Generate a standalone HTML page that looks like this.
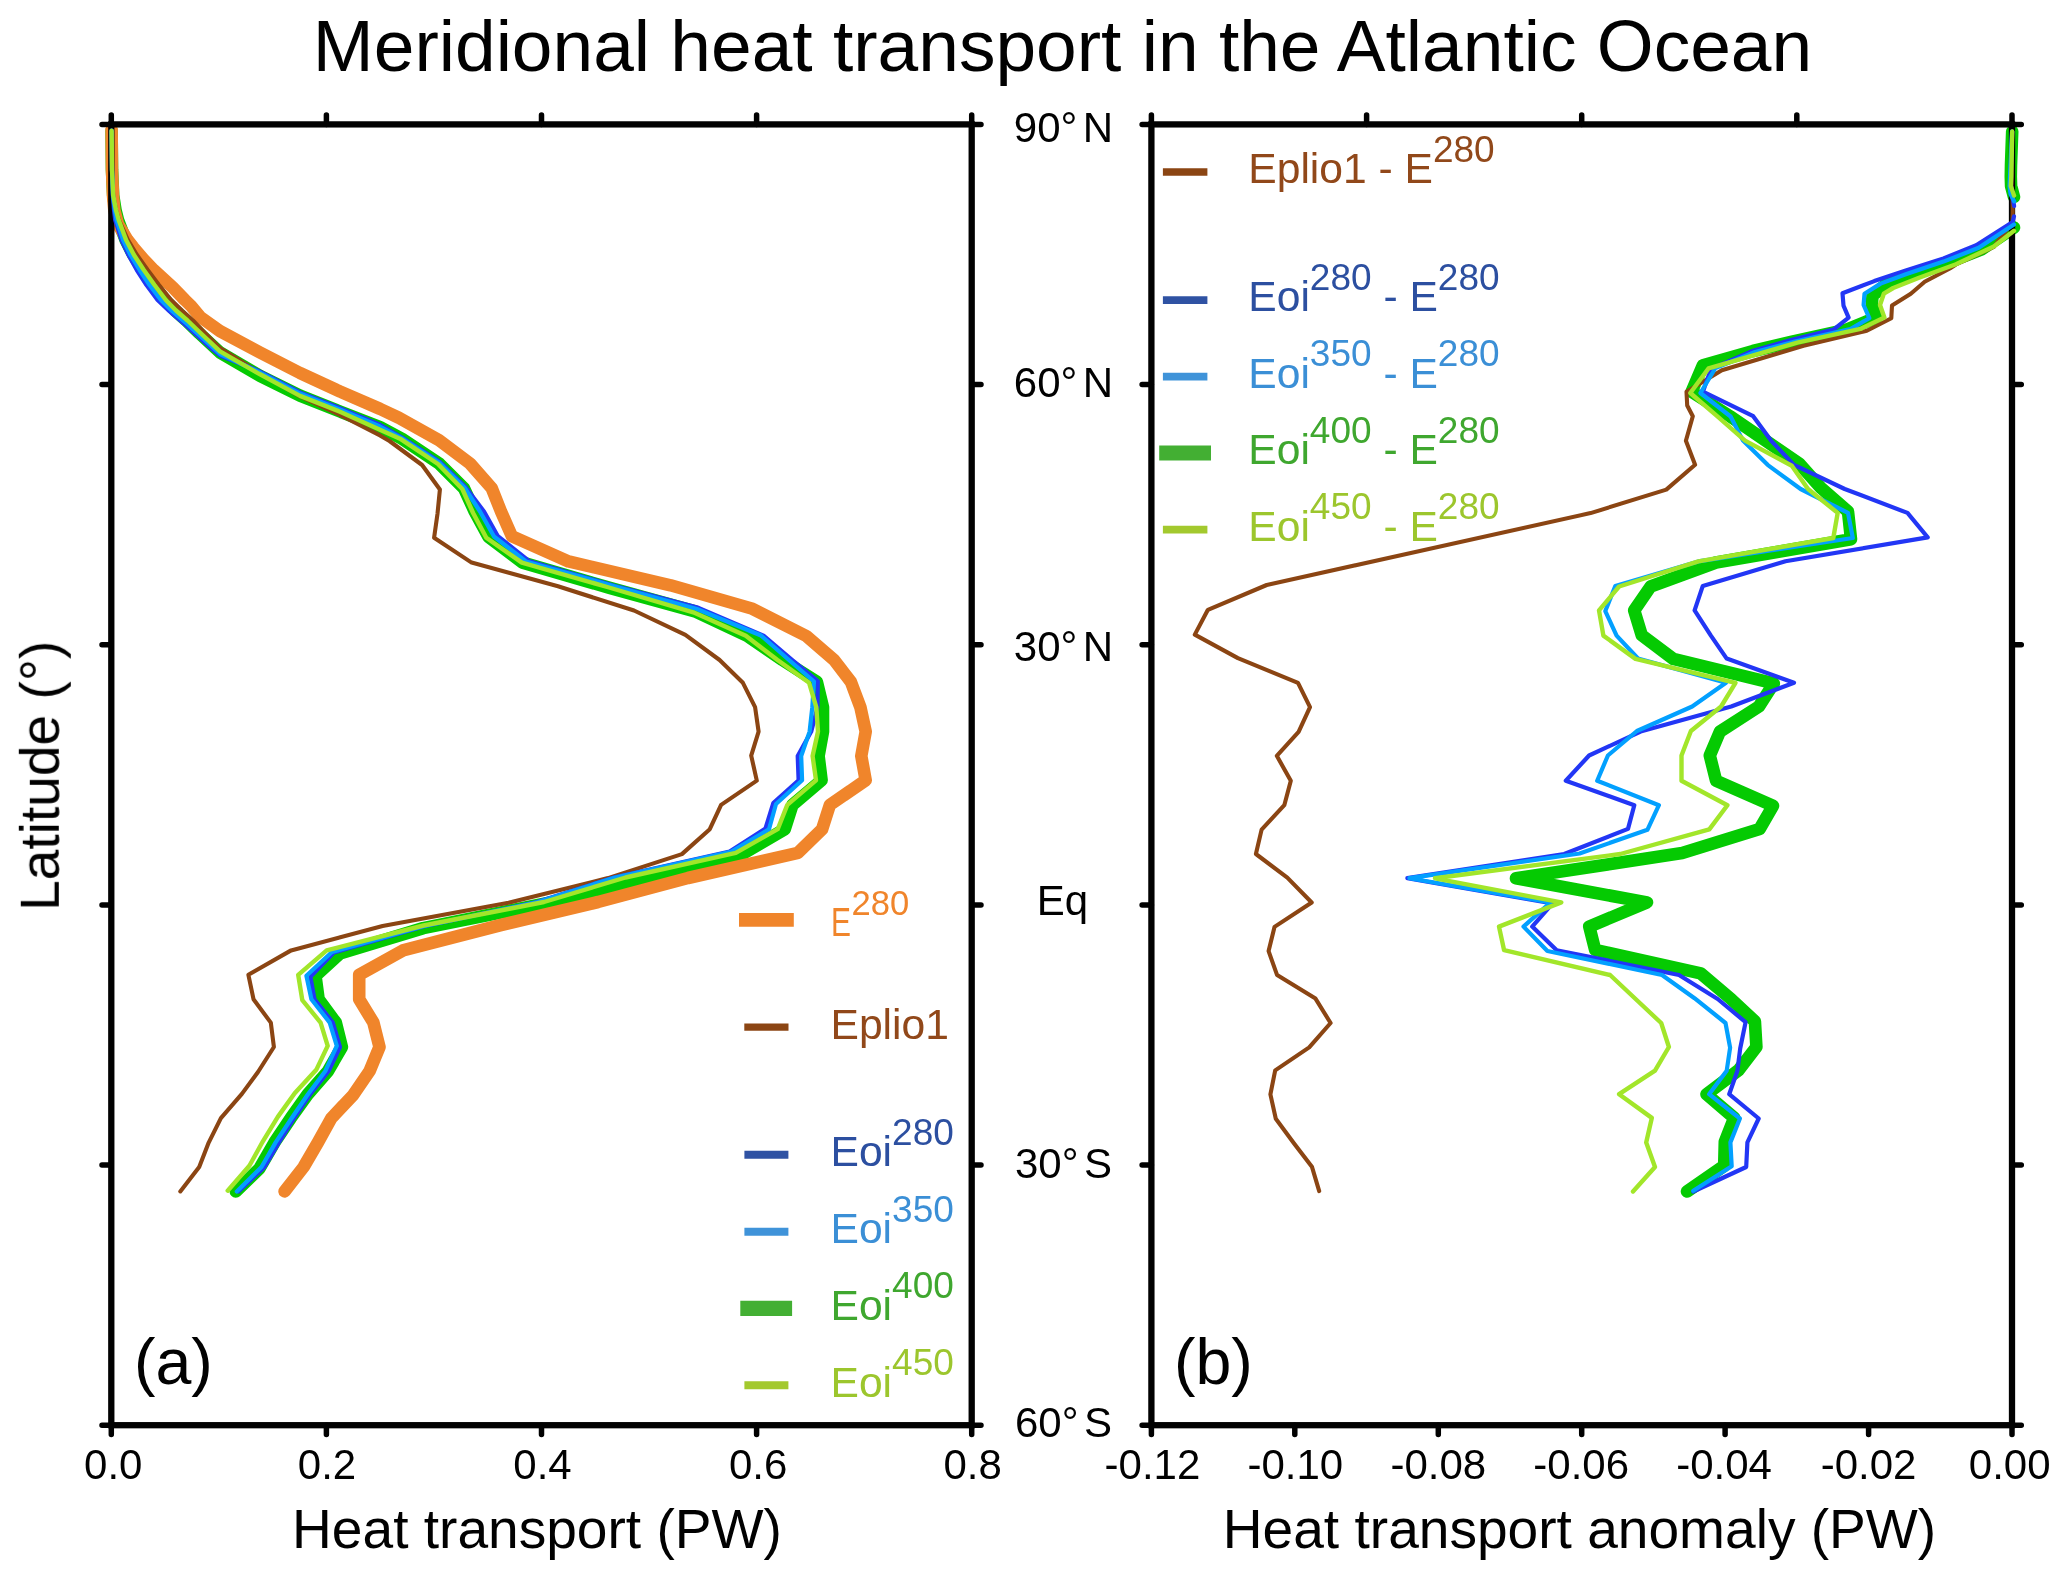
<!DOCTYPE html>
<html lang="en"><head><meta charset="utf-8"><title>Meridional heat transport in the Atlantic Ocean</title>
<style>html,body{margin:0;padding:0;background:#fff;}body{width:2067px;height:1577px;overflow:hidden;}svg{display:block;}text{font-family:"Liberation Sans", Arial, Helvetica, sans-serif;}</style></head><body>
<svg width="2067" height="1577" viewBox="0 0 2067 1577">
<rect width="2067" height="1577" fill="#fff"/>
<g opacity="0.999">
<text x="1062.5" y="70.5" font-size="73.10" text-anchor="middle" fill="#000" id="title">Meridional heat transport in the Atlantic Ocean</text>
<g>
<path d="M111.6 130.7 L112.0 170.0 L113.2 195.5 L115.5 210.0 L118.0 220.0 L125.6 240.0 L133.3 255.0 L142.7 270.0 L153.5 285.0 L164.9 300.0 L175.0 310.5 L186.2 320.5 L199.0 333.0 L220.0 352.5 L260.0 375.9 L300.0 395.7 L340.0 411.5 L380.0 427.1 L401.9 438.7 L439.1 463.5 L463.9 488.2 L474.7 511.5 L488.6 537.0 L522.7 562.6 L609.7 587.9 L695.0 611.4 L747.1 635.8 L782.5 660.0 L816.9 681.9 L823.0 707.2 L823.0 731.6 L818.6 756.0 L821.6 780.2 L792.5 804.9 L784.7 829.2 L743.6 853.2 L646.0 878.0 L553.0 902.0 L423.2 928.1 L339.9 953.5 L315.5 975.8 L318.6 999.2 L335.8 1022.6 L341.9 1047.0 L327.8 1071.4 L307.6 1094.5 L290.7 1118.2 L274.4 1142.6 L259.5 1168.4 L235.8 1191.4" fill="none" stroke="#05CA02" stroke-width="12.60" stroke-linecap="round" stroke-linejoin="round"/>
<path d="M111.6 130.0 L112.0 170.0 L113.0 195.5 L114.3 210.0 L118.0 224.4 L127.5 240.0 L133.0 247.0 L143.5 259.3 L153.7 270.0 L172.5 287.2 L184.9 300.0 L191.1 306.0 L200.3 317.0 L220.0 331.1 L260.0 352.5 L300.0 373.0 L340.0 391.5 L380.0 408.9 L398.8 417.8 L439.1 440.3 L470.0 463.5 L491.7 488.2 L501.0 511.5 L511.9 536.2 L568.5 561.4 L670.6 585.3 L752.5 608.8 L806.3 636.0 L834.1 660.0 L850.9 681.9 L860.4 707.2 L865.7 731.6 L861.3 756.0 L865.7 780.3 L829.9 804.9 L822.1 829.2 L798.0 852.8 L688.0 878.0 L598.0 902.0 L501.0 925.0 L402.9 950.4 L359.2 974.8 L359.2 999.2 L373.4 1022.6 L379.5 1047.0 L369.6 1071.0 L353.0 1095.2 L331.3 1118.2 L317.8 1142.6 L303.6 1167.0 L284.6 1191.4" fill="none" stroke="#F0852B" stroke-width="12.60" stroke-linecap="round" stroke-linejoin="round"/>
<path d="M2012.2 131.5 L2011.0 165.0 L2010.8 176.6 L2011.1 186.1 L2014.0 197.0 M2014.0 227.5 L1981.0 249.7 L1943.5 264.2 L1905.8 276.7 L1887.0 283.6 L1872.5 295.6 L1871.8 305.7 L1876.2 317.6 L1846.7 329.6 L1791.0 342.0 L1753.0 351.0 L1702.9 365.3 L1691.6 391.7 L1730.0 416.2 L1765.8 440.8 L1799.4 463.8 L1820.8 487.7 L1848.0 511.6 L1851.0 539.3 L1716.0 562.5 L1650.6 586.5 L1634.2 610.4 L1641.8 635.3 L1673.2 658.9 L1773.8 683.4 L1758.9 706.5 L1719.9 731.6 L1709.8 755.5 L1716.1 780.7 L1773.0 805.8 L1759.6 829.0 L1682.2 853.1 L1516.0 878.3 L1647.0 902.4 L1589.3 926.6 L1595.1 949.8 L1700.7 973.4 L1731.0 999.0 L1754.9 1021.4 L1756.4 1047.0 L1738.6 1070.1 L1706.5 1094.2 L1734.2 1117.9 L1724.8 1141.8 L1724.2 1165.7 L1687.0 1191.5" fill="none" stroke="#05CA02" stroke-width="12.60" stroke-linecap="round" stroke-linejoin="round"/>
</g>
<rect x="111.3" y="124.4" width="860.4" height="1300.8" fill="none" stroke="#000" stroke-width="6.3"/>
<path d="M111.3 1425.2 v9.3 M326.4 1425.2 v9.3 M541.5 1425.2 v9.3 M756.6 1425.2 v9.3 M971.7 1425.2 v9.3 M111.3 124.4 v-9.3 M326.4 124.4 v-9.3 M541.5 124.4 v-9.3 M756.6 124.4 v-9.3 M971.7 124.4 v-9.3 M111.3 124.4 h-9.3 M971.7 124.4 h9.3 M111.3 384.6 h-9.3 M971.7 384.6 h9.3 M111.3 644.7 h-9.3 M971.7 644.7 h9.3 M111.3 904.9 h-9.3 M971.7 904.9 h9.3 M111.3 1165.0 h-9.3 M971.7 1165.0 h9.3 M111.3 1425.2 h-9.3 M971.7 1425.2 h9.3" fill="none" stroke="#000" stroke-width="5.5" stroke-linecap="round"/>
<rect x="1151.4" y="124.4" width="860.6" height="1300.8" fill="none" stroke="#000" stroke-width="6.3"/>
<path d="M1151.4 1425.2 v9.3 M1294.8 1425.2 v9.3 M1438.3 1425.2 v9.3 M1581.7 1425.2 v9.3 M1725.1 1425.2 v9.3 M1868.6 1425.2 v9.3 M2012.0 1425.2 v9.3 M1151.4 124.4 v-9.3 M1366.6 124.4 v-9.3 M1581.7 124.4 v-9.3 M1796.8 124.4 v-9.3 M2012.0 124.4 v-9.3 M1151.4 124.4 h-9.3 M2012.0 124.4 h9.3 M1151.4 384.6 h-9.3 M2012.0 384.6 h9.3 M1151.4 644.7 h-9.3 M2012.0 644.7 h9.3 M1151.4 904.9 h-9.3 M2012.0 904.9 h9.3 M1151.4 1165.0 h-9.3 M2012.0 1165.0 h9.3 M1151.4 1425.2 h-9.3 M2012.0 1425.2 h9.3" fill="none" stroke="#000" stroke-width="5.5" stroke-linecap="round"/>
<g>
<path d="M111.6 130.7 L112.0 170.0 L113.2 195.5 L116.0 210.0 L119.0 220.0 L128.0 240.0 L137.0 255.0 L147.7 270.0 L159.0 285.0 L171.2 300.0 L182.0 310.5 L193.0 320.5 L205.0 333.0 L220.0 347.9 L260.0 373.0 L300.0 396.5 L340.0 415.0 L380.0 435.4 L389.5 441.0 L422.1 465.0 L439.9 489.5 L437.5 513.8 L434.1 537.8 L471.6 562.6 L558.0 586.3 L634.0 610.5 L685.4 634.9 L719.6 660.0 L742.9 682.8 L755.1 707.2 L758.6 731.6 L751.2 755.6 L756.8 780.6 L721.1 804.9 L709.8 829.2 L681.9 854.1 L608.0 878.1 L508.6 902.7 L382.6 926.0 L291.1 950.4 L248.4 974.8 L253.5 999.2 L270.8 1022.6 L273.9 1047.0 L258.0 1072.0 L241.9 1093.9 L220.9 1118.2 L208.7 1142.6 L199.2 1167.0 L180.3 1191.4" fill="none" stroke="#8B4513" stroke-width="4.10" stroke-linecap="round" stroke-linejoin="round"/>
<path d="M111.6 130.7 L112.0 170.0 L112.8 195.5 L114.0 210.0 L115.2 220.0 L121.5 240.0 L128.5 255.0 L136.8 270.0 L146.5 285.0 L157.6 300.0 L169.7 311.4 L184.9 324.5 L208.9 346.3 L220.0 355.5 L260.0 371.5 L300.0 392.4 L340.0 408.1 L380.0 424.8 L402.0 437.5 L440.0 462.0 L465.5 487.0 L484.0 511.5 L497.9 536.2 L528.9 561.0 L618.5 586.9 L698.5 607.9 L764.1 636.0 L792.3 660.0 L817.8 681.1 L817.5 707.2 L811.2 731.6 L797.7 756.0 L798.6 780.3 L773.3 803.1 L765.5 828.4 L729.7 851.5 L614.0 877.5 L537.0 902.0 L423.2 926.5 L333.8 952.5 L310.4 976.8 L314.5 999.2 L332.8 1022.6 L340.0 1047.0 L328.5 1071.3 L310.0 1094.5 L294.0 1118.2 L278.8 1142.6 L264.5 1167.0 L238.5 1191.4" fill="none" stroke="#2236F5" stroke-width="4.20" stroke-linecap="round" stroke-linejoin="round"/>
<path d="M111.6 130.7 L112.0 170.0 L113.0 195.5 L114.8 210.0 L116.5 220.0 L123.1 240.0 L130.5 255.0 L139.6 270.0 L149.5 285.0 L160.9 300.0 L172.5 311.4 L187.6 324.5 L211.5 346.3 L220.0 354.0 L260.0 372.5 L300.0 393.5 L340.0 409.5 L380.0 426.5 L401.5 438.0 L439.5 462.8 L464.5 487.5 L480.0 511.5 L494.0 536.5 L526.0 561.5 L617.0 587.0 L697.0 609.0 L761.0 635.5 L789.0 660.0 L814.0 681.5 L812.3 707.2 L809.6 731.6 L801.2 756.0 L802.1 780.3 L776.0 804.0 L769.0 829.2 L731.0 851.9 L615.0 877.5 L538.0 902.0 L423.2 926.3 L332.0 952.0 L306.4 975.8 L311.4 999.2 L329.7 1022.6 L336.8 1045.9 L325.2 1071.3 L307.8 1094.5 L291.6 1118.2 L275.5 1142.6 L261.5 1167.0 L236.8 1191.4" fill="none" stroke="#02A0FF" stroke-width="4.20" stroke-linecap="round" stroke-linejoin="round"/>
<path d="M111.6 130.7 L112.0 170.0 L113.2 195.5 L116.0 210.0 L118.7 220.0 L126.1 240.0 L134.0 255.0 L143.8 270.0 L154.5 285.0 L165.8 300.0 L176.0 310.5 L187.5 320.5 L200.5 333.0 L220.0 351.4 L260.0 374.3 L300.0 395.9 L340.0 411.7 L380.0 429.7 L400.0 438.7 L438.0 464.0 L462.3 489.0 L473.1 513.0 L486.3 537.8 L521.9 562.6 L609.0 587.5 L693.3 612.3 L745.8 635.8 L777.5 660.0 L809.1 682.8 L816.3 707.2 L818.0 731.6 L812.6 756.0 L816.0 780.3 L787.3 804.9 L777.7 829.2 L735.8 852.8 L625.5 877.5 L544.0 902.0 L423.5 925.5 L326.7 950.4 L298.2 974.8 L302.3 1000.2 L320.6 1022.6 L327.7 1045.9 L316.5 1069.4 L294.7 1093.2 L277.8 1116.9 L262.9 1141.3 L249.4 1165.7 L227.7 1190.7" fill="none" stroke="#A2E62A" stroke-width="4.40" stroke-linecap="round" stroke-linejoin="round"/>
<path d="M2012.2 131.5 L2011.5 165.0 L2011.5 186.0 L2012.5 198.0 L2012.7 210.0 L2012.5 222.0 L1993.8 247.0 L1956.0 264.5 L1949.8 268.5 L1924.7 281.8 L1910.8 293.7 L1892.0 305.4 L1891.3 318.2 L1866.8 330.8 L1803.5 345.8 L1721.8 370.3 L1686.5 391.7 L1687.2 405.5 L1692.8 416.2 L1685.9 440.8 L1695.1 464.8 L1666.3 489.6 L1590.6 513.1 L1266.7 585.0 L1207.9 609.8 L1194.8 634.6 L1237.9 658.1 L1298.0 682.9 L1310.0 707.2 L1298.6 731.9 L1276.8 755.8 L1290.8 780.8 L1284.3 805.2 L1261.6 829.6 L1255.9 854.0 L1287.3 877.6 L1311.7 902.5 L1274.5 926.9 L1268.6 951.1 L1277.1 975.1 L1315.5 998.6 L1330.6 1023.0 L1309.2 1047.4 L1275.2 1070.4 L1270.4 1094.4 L1275.8 1118.8 L1293.9 1143.2 L1311.9 1166.7 L1319.2 1191.1" fill="none" stroke="#8B4513" stroke-width="4.10" stroke-linecap="round" stroke-linejoin="round"/>
<path d="M2012.2 131.5 L2011.0 165.0 L2011.0 186.0 L2012.5 197.0 L2014.1 206.0 M2014.0 216.4 L2012.7 222.0 L1976.2 245.3 L1943.5 258.5 L1905.8 270.4 L1874.3 281.1 L1842.5 293.3 L1843.5 305.7 L1848.6 317.6 L1833.5 329.6 L1791.0 340.1 L1753.2 350.8 L1711.0 369.0 L1702.9 391.7 L1753.2 416.2 L1771.0 440.6 L1794.0 464.9 L1844.7 489.0 L1907.5 512.9 L1927.7 537.4 L1785.5 561.3 L1702.8 585.9 L1694.6 610.4 L1710.9 635.6 L1726.7 658.6 L1794.0 682.8 L1731.2 706.5 L1640.6 731.6 L1589.1 755.5 L1565.8 780.7 L1634.3 805.2 L1628.0 828.9 L1564.2 854.0 L1407.4 878.2 L1552.6 903.4 L1532.2 926.6 L1556.7 950.2 L1679.0 975.0 L1717.7 999.0 L1745.6 1022.2 L1740.2 1048.5 L1737.4 1070.7 L1729.2 1094.2 L1758.7 1118.5 L1747.4 1142.4 L1746.2 1167.0 L1693.3 1191.5" fill="none" stroke="#2236F5" stroke-width="4.20" stroke-linecap="round" stroke-linejoin="round"/>
<path d="M2012.0 131.5 L2010.5 165.0 L2009.6 186.0 L2010.5 194.0 L2014.1 201.3 M2014.0 224.5 L1978.7 247.8 L1943.5 261.6 L1905.8 274.2 L1880.6 283.6 L1864.5 293.7 L1863.6 305.0 L1869.3 318.2 L1850.4 329.0 L1795.0 341.5 L1755.0 352.0 L1715.5 368.0 L1700.4 393.0 L1730.6 416.5 L1743.0 440.6 L1767.9 465.1 L1800.6 489.0 L1848.0 512.9 L1852.8 538.0 L1698.4 561.4 L1615.3 585.9 L1605.3 611.1 L1616.6 635.6 L1638.0 658.5 L1726.0 682.8 L1692.2 706.5 L1636.9 731.0 L1607.9 755.5 L1597.2 780.7 L1658.9 805.2 L1647.4 829.8 L1579.6 853.5 L1409.4 878.2 L1550.6 902.4 L1523.5 926.6 L1547.4 951.0 L1662.0 975.0 L1694.5 998.2 L1725.5 1023.0 L1730.1 1047.7 L1726.7 1070.7 L1709.1 1094.2 L1739.9 1118.5 L1730.4 1142.4 L1731.7 1166.3 L1693.3 1190.8" fill="none" stroke="#02A0FF" stroke-width="4.20" stroke-linecap="round" stroke-linejoin="round"/>
<path d="M2012.2 131.5 L2011.3 176.6 L2010.8 186.0 L2014.1 195.6 M2014.0 230.8 L1993.8 246.5 L1956.0 264.2 L1918.4 278.0 L1893.2 288.0 L1883.8 293.7 L1880.0 305.0 L1884.4 317.6 L1860.5 328.9 L1797.2 342.6 L1708.6 368.4 L1690.3 393.0 L1718.0 416.9 L1745.0 440.6 L1791.8 465.7 L1808.0 489.0 L1837.7 512.9 L1833.3 538.0 L1698.4 561.4 L1619.1 586.5 L1599.0 610.4 L1603.4 635.6 L1635.5 658.9 L1735.5 682.8 L1721.1 706.5 L1690.9 731.0 L1681.5 755.5 L1681.5 780.7 L1727.4 805.2 L1709.3 829.4 L1620.3 854.0 L1435.0 878.3 L1561.3 902.4 L1499.0 926.6 L1504.1 950.2 L1610.1 975.0 L1637.2 1000.5 L1661.2 1023.0 L1668.9 1047.0 L1655.0 1070.7 L1619.1 1094.2 L1651.8 1117.9 L1646.2 1142.4 L1655.0 1167.0 L1633.0 1191.5" fill="none" stroke="#A2E62A" stroke-width="4.40" stroke-linecap="round" stroke-linejoin="round"/>
</g>
<text x="113.3" y="1478.7" font-size="42.00" text-anchor="middle" fill="#000" >0.0</text>
<text x="327.0" y="1478.7" font-size="42.00" text-anchor="middle" fill="#000" >0.2</text>
<text x="542.5" y="1478.7" font-size="42.00" text-anchor="middle" fill="#000" >0.4</text>
<text x="758.2" y="1478.7" font-size="42.00" text-anchor="middle" fill="#000" >0.6</text>
<text x="972.6" y="1478.7" font-size="42.00" text-anchor="middle" fill="#000" >0.8</text>
<text x="1152.4" y="1478.7" font-size="42.00" text-anchor="middle" fill="#000" >-0.12</text>
<text x="1295.3" y="1478.7" font-size="42.00" text-anchor="middle" fill="#000" >-0.10</text>
<text x="1438.3" y="1478.7" font-size="42.00" text-anchor="middle" fill="#000" >-0.08</text>
<text x="1581.2" y="1478.7" font-size="42.00" text-anchor="middle" fill="#000" >-0.06</text>
<text x="1724.1" y="1478.7" font-size="42.00" text-anchor="middle" fill="#000" >-0.04</text>
<text x="1868.6" y="1478.7" font-size="42.00" text-anchor="middle" fill="#000" >-0.02</text>
<text x="2009.7" y="1478.7" font-size="42.00" text-anchor="middle" fill="#000" >0.00</text>
<text x="1063.5" y="141.5" font-size="42.00" text-anchor="middle" fill="#000" >90°<tspan dx="5.5">N</tspan></text>
<text x="1063.5" y="396.9" font-size="42.00" text-anchor="middle" fill="#000" >60°<tspan dx="5.5">N</tspan></text>
<text x="1063.5" y="660.8" font-size="42.00" text-anchor="middle" fill="#000" >30°<tspan dx="5.5">N</tspan></text>
<text x="1063.5" y="1177.8" font-size="42.00" text-anchor="middle" fill="#000" >30°<tspan dx="5.5">S</tspan></text>
<text x="1063.5" y="1436.5" font-size="42.00" text-anchor="middle" fill="#000" >60°<tspan dx="5.5">S</tspan></text>
<text x="1062.4" y="914.5" font-size="42.00" text-anchor="middle" fill="#000" >Eq</text>
<text x="537.0" y="1548.4" font-size="55.10" text-anchor="middle" fill="#000" id="xl1">Heat transport (PW)</text>
<text x="1579.5" y="1548.4" font-size="55.10" text-anchor="middle" fill="#000" id="xl2">Heat transport anomaly (PW)</text>
<text transform="translate(58.8 775.8) rotate(-90)" font-size="55.10" text-anchor="middle" id="yl">Latitude (°)</text>
<text x="134.0" y="1384.3" font-size="64.50" text-anchor="start" fill="#000" id="pa">(a)</text>
<text x="1174.0" y="1384.3" font-size="64.50" text-anchor="start" fill="#000" id="pb">(b)</text>
<path d="M739.0 919.9 H793.8" stroke="#F0852B" stroke-width="13.6" fill="none"/>
<text transform="translate(833.5 935.9) scale(0.745 1)" x="-3.2" y="0" font-size="40.2" fill="#F0852B">E</text>
<text x="851.6" y="914.7" font-size="34.60" text-anchor="start" fill="#F0852B" >280</text>
<path d="M744.3 1027.1 H788.5" stroke="#8B4513" stroke-width="7.4" fill="none"/>
<text x="830.5" y="1038.7" font-size="42.60" text-anchor="start" fill="#91481A" >Eplio1</text>
<path d="M744.4 1154.8 H788.4" stroke="#2F52A3" stroke-width="8.0" fill="none"/>
<text x="830.5" y="1166.2" font-size="42.60" text-anchor="start" fill="#2C4FA0" >Eoi<tspan dy="-21.6" font-size="37.0">280</tspan></text>
<path d="M744.4 1231.7 H788.4" stroke="#3F93D9" stroke-width="8.0" fill="none"/>
<text x="830.5" y="1243.1" font-size="42.60" text-anchor="start" fill="#3B8FD6" >Eoi<tspan dy="-21.6" font-size="37.0">350</tspan></text>
<path d="M740.3 1308.4 H792.1" stroke="#43AF33" stroke-width="15.2" fill="none"/>
<text x="830.5" y="1319.6" font-size="42.60" text-anchor="start" fill="#3FA72F" >Eoi<tspan dy="-21.6" font-size="37.0">400</tspan></text>
<path d="M744.4 1385.3 H788.4" stroke="#A3C92E" stroke-width="8.0" fill="none"/>
<text x="830.5" y="1396.7" font-size="42.60" text-anchor="start" fill="#9CC62D" >Eoi<tspan dy="-21.6" font-size="37.0">450</tspan></text>
<path d="M1162.9 172.0 H1207.4" stroke="#8B4513" stroke-width="7.5" fill="none"/>
<text x="1248.3" y="183.1" font-size="42.60" text-anchor="start" fill="#91481A" >Eplio1 - E<tspan dy="-21.6" font-size="37.0">280</tspan></text>
<path d="M1162.9 300.2 H1207.4" stroke="#2F52A3" stroke-width="7.8" fill="none"/>
<text x="1248.3" y="311.2" font-size="42.60" text-anchor="start" fill="#2C4FA0" >Eoi<tspan dy="-21.6" font-size="37.0">280</tspan><tspan dy="21.6"> - E</tspan><tspan dy="-21.6" font-size="37.0">280</tspan></text>
<path d="M1162.9 376.7 H1207.4" stroke="#3F93D9" stroke-width="7.8" fill="none"/>
<text x="1248.3" y="387.7" font-size="42.60" text-anchor="start" fill="#3B8FD6" >Eoi<tspan dy="-21.6" font-size="37.0">350</tspan><tspan dy="21.6"> - E</tspan><tspan dy="-21.6" font-size="37.0">280</tspan></text>
<path d="M1159.2 453.1 H1211.0" stroke="#43AF33" stroke-width="15.0" fill="none"/>
<text x="1248.3" y="464.3" font-size="42.60" text-anchor="start" fill="#3FA72F" >Eoi<tspan dy="-21.6" font-size="37.0">400</tspan><tspan dy="21.6"> - E</tspan><tspan dy="-21.6" font-size="37.0">280</tspan></text>
<path d="M1162.9 529.6 H1207.4" stroke="#A3C92E" stroke-width="7.8" fill="none"/>
<text x="1248.3" y="540.6" font-size="42.60" text-anchor="start" fill="#9CC62D" >Eoi<tspan dy="-21.6" font-size="37.0">450</tspan><tspan dy="21.6"> - E</tspan><tspan dy="-21.6" font-size="37.0">280</tspan></text>
</g>
</svg></body></html>
